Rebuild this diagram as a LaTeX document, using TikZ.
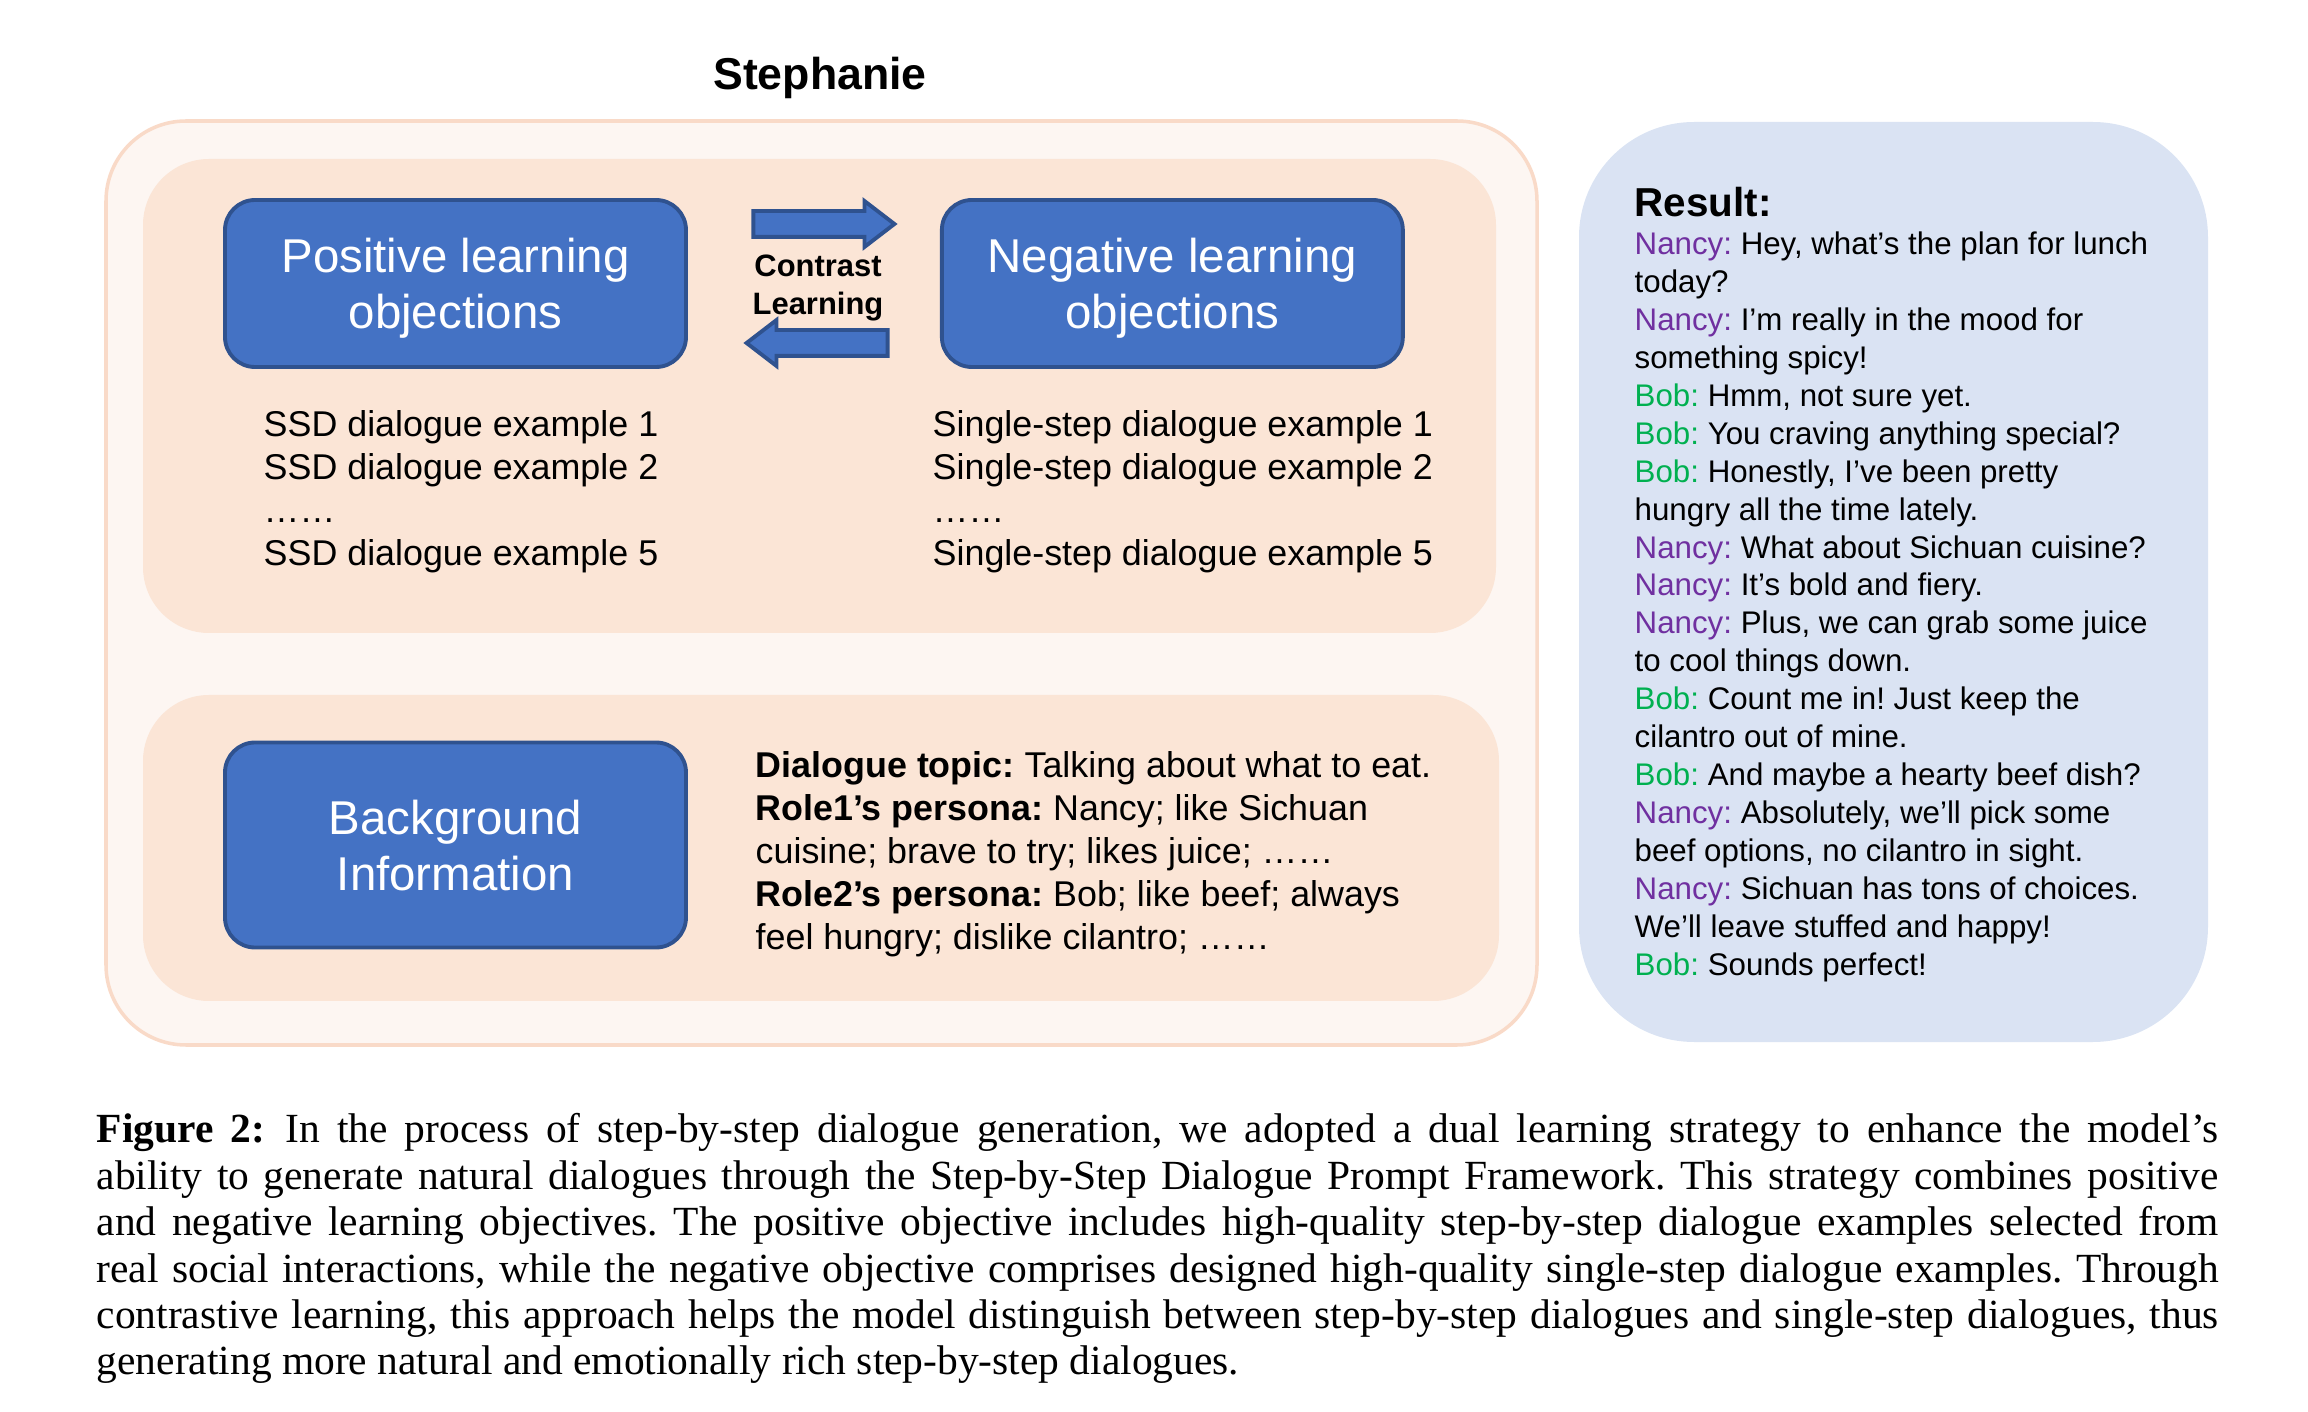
\documentclass[tikz,border=0pt]{standalone}
\usepackage{fontspec}
\setmainfont{Liberation Sans}
\newfontfamily\capfont{Liberation Serif}
\usetikzlibrary{positioning,shapes.arrows,backgrounds}
\definecolor{boxBlue}{RGB}{68,114,196}
\definecolor{boxEdge}{RGB}{47,82,143}
\definecolor{peach}{RGB}{251,229,214}
\definecolor{peachLight}{RGB}{253,246,242}
\definecolor{peachEdge}{RGB}{249,218,200}
\definecolor{resultBg}{RGB}{218,227,243}
\definecolor{nancyPurple}{RGB}{112,48,160}
\definecolor{bobGreen}{RGB}{0,176,80}
\newcommand{\nancy}{\textcolor{nancyPurple}{Nancy:}}
\newcommand{\bob}{\textcolor{bobGreen}{Bob:}}
\frenchspacing

\begin{document}
\begin{tikzpicture}[
    obj/.style={draw=boxEdge, fill=boxBlue, line width=1.1pt, rounded corners=0.3cm, minimum width=4.61cm, minimum height=1.67cm, text=white, align=center, text depth=0pt, font=\fontsize{13.5}{15.9}\selectfont},
    panel/.style={fill=peach, rounded corners=0.66cm},
    blockarr/.style={single arrow, draw=boxEdge, fill=boxBlue, line width=1.1pt, minimum height=1.41cm, single arrow head extend=0.1cm, single arrow tip angle=75, inner xsep=0pt, inner ysep=0.11cm},
    exlist/.style={align=left, inner sep=0pt, anchor=west, font=\fontsize{10.2}{12.2}\selectfont},
    chat/.style={align=left, inner sep=0pt, anchor=north west, font=\fontsize{8.9}{10.8}\selectfont},
]
\useasboundingbox (0,0) rectangle (23.08,-14.12);

% Stephanie block
\node[font=\fontsize{12.7}{15}\selectfont\bfseries] (title) at (8.20,-0.78) {Stephanie};
\node[obj] (pos) at (4.555,-2.835) {Positive learning\\objections};
\node[obj, right=2.52cm of pos] (neg) {Negative learning\\objections};
\node[obj, minimum height=2.05cm] (bg) at (4.555,-8.45) {Background\\Information};

% Contrast arrows
\node[blockarr] (toNeg) at (8.155,-2.24) {};
\node[blockarr, shape border rotate=180] (toPos) at (8.255,-3.43) {};
\node[font=\fontsize{8.8}{10.8}\selectfont\bfseries, align=center] (contrast) at (8.18,-2.88) {Contrast\\Learning};

% Examples
\node[exlist] (posEx) at (2.63,-4.92) {SSD dialogue example 1\\SSD dialogue example 2\\……\\SSD dialogue example 5};
\node[exlist] (negEx) at (9.32,-4.915) {Single-step dialogue example 1\\Single-step dialogue example 2\\……\\Single-step dialogue example 5};

% Background info
\node[exlist] (bgText) at (7.55,-8.54) {\textbf{Dialogue topic:} Talking about what to eat.\\\textbf{Role1’s persona:} Nancy; like Sichuan\\cuisine; brave to try; likes juice; ……\\\textbf{Role2’s persona:} Bob; like beef; always\\feel hungry; dislike cilantro; ……};

% Result
\node[font=\fontsize{11.5}{13}\selectfont\bfseries, anchor=west, inner sep=0pt] (resTitle) at (16.34,-2.02) {Result:};
\node[chat] (chatLog) at (16.34,-2.31) {\nancy{} Hey, what’s the plan for lunch\\today?\\\nancy{} I’m really in the mood for\\something spicy!\\\bob{} Hmm, not sure yet.\\\bob{} You craving anything special?\\\bob{} Honestly, I’ve been pretty\\hungry all the time lately.\\\nancy{} What about Sichuan cuisine?\\\nancy{} It’s bold and fiery.\\\nancy{} Plus, we can grab some juice\\to cool things down.\\\bob{} Count me in! Just keep the\\cilantro out of mine.\\\bob{} And maybe a hearty beef dish?\\\nancy{} Absolutely, we’ll pick some\\beef options, no cilantro in sight.\\\nancy{} Sichuan has tons of choices.\\We’ll leave stuffed and happy!\\\bob{} Sounds perfect!};

% Panels
\begin{scope}[on background layer]
\node[draw=peachEdge, fill=peachLight, line width=1pt, rounded corners=0.8cm, minimum width=14.31cm, minimum height=9.24cm] (outer) at (8.215,-5.83) {};
\node[panel, minimum width=13.53cm, minimum height=4.74cm] (upper) at (8.195,-3.96) {};
\node[panel, minimum width=13.56cm, minimum height=3.06cm] (lower) at (8.21,-8.48) {};
\node[fill=resultBg, rounded corners=1.15cm, minimum width=6.29cm, minimum height=9.20cm] (result) at (18.935,-5.82) {};
\end{scope}

% Caption
\node[anchor=north west, inner sep=0pt, text width=21.22cm, align=justify, font=\capfont\fontsize{11.8}{13.2}\selectfont] (caption) at (0.96,-11.13) {\textbf{Figure 2:}\enspace In the process of step-by-step dialogue generation, we adopted a dual learning strategy to enhance the model’s\linebreak ability to generate natural dialogues through the Step-by-Step Dialogue Prompt Framework. This strategy combines positive\linebreak and negative learning objectives. The positive objective includes high-quality step-by-step dialogue examples selected from\linebreak real social interactions, while the negative objective comprises designed high-quality single-step dialogue examples. Through\linebreak contrastive learning, this approach helps the model distinguish between step-by-step dialogues and single-step dialogues, thus\linebreak generating more natural and emotionally rich step-by-step dialogues.};
\end{tikzpicture}
\end{document}
